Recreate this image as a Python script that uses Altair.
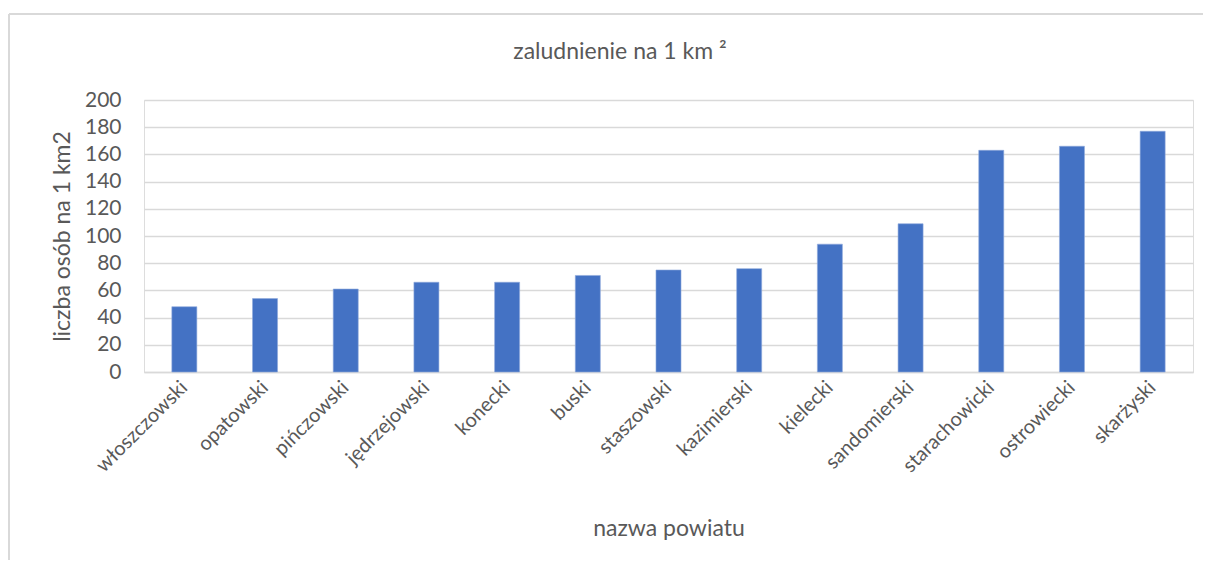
import altair as alt
import pandas as pd

powiaty = ["włoszczowski", "opatowski", "pińczowski", "jędrzejowski", "konecki",
           "buski", "staszowski", "kazimierski", "kielecki", "sandomierski",
           "starachowicki", "ostrowiecki", "skarżyski"]
zaludnienie = [48, 54, 61, 66, 66, 71, 75, 76, 94, 109, 163, 166, 177]
y_ticks = [0, 20, 40, 60, 80, 100, 120, 140, 160, 180, 200]
chart_title = ["zaludnienie na 1 km ²"]

df = pd.DataFrame({"powiat": powiaty, "zaludnienie": zaludnienie})
df_title = pd.DataFrame({"t": chart_title})

FONT = "Lato"
TXT = "#595959"

bars = alt.Chart(df).mark_bar(color="#4472C4", stroke="#8FAADC", strokeWidth=0.6).encode(
    x=alt.X("powiat:N", sort=powiaty,
            scale=alt.Scale(paddingInner=0.69, paddingOuter=0.345),
            axis=alt.Axis(title="nazwa powiatu", labelAngle=315, labelAlign="right",
                          labelBaseline="middle", labelPadding=12, ticks=False, tickSize=0,
                          domain=True, domainColor="#d9d9d9", domainWidth=1.5,
                          labelFontSize=20, labelColor=TXT, labelFont=FONT,
                          titleFontSize=23, titleColor=TXT, titleFont=FONT,
                          titleFontWeight="normal", titlePadding=42)),
    y=alt.Y("zaludnienie:Q",
            scale=alt.Scale(domain=[0, 200]),
            axis=alt.Axis(title="liczba osób na 1 km2", values=y_ticks, ticks=False, tickSize=0,
                          domain=False, labelPadding=23, grid=True, gridColor="#d9d9d9",
                          gridWidth=1.5, labelFontSize=21, labelColor=TXT, labelFont=FONT,
                          titleFontSize=23, titleColor=TXT, titleFont=FONT,
                          titleFontWeight="normal", titlePadding=10)),
)

title_mark = alt.Chart(df_title).mark_text(
    font=FONT, fontSize=23, color=TXT, align="center", baseline="alphabetic"
).encode(text="t:N", x=alt.value(476), y=alt.value(-41))

border_top = alt.Chart(df).mark_rule(color="#d9d9d9", strokeWidth=1.5).encode(
    x=alt.value(-135), x2=alt.value(1060), y=alt.value(-86))
border_left = alt.Chart(df).mark_rule(color="#d9d9d9", strokeWidth=1.5).encode(
    x=alt.value(-135), y=alt.value(-86), y2=alt.value(460))

chart = alt.layer(bars, title_mark, border_top, border_left).properties(
    width=1049, height=272,
    autosize=alt.AutoSizeParams(type="none"),
    padding={"left": 136, "top": 92, "right": 10, "bottom": 190},
).configure_view(stroke=None).configure(background="white")

chart.save("out.html", embed_options={"renderer": "svg", "actions": False})
